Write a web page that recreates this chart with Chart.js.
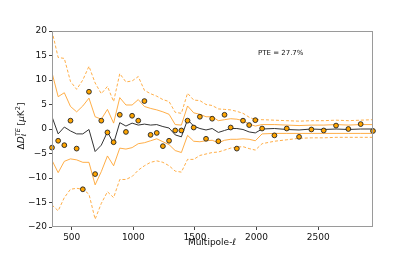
<!DOCTYPE html>
<html><head><meta charset="utf-8">
<script src="https://cdn.jsdelivr.net/npm/chart.js@4.4.0/dist/chart.umd.min.js"></script>
<style>html,body{margin:0;padding:0;background:#fff}canvas{display:block}</style>
</head><body>
<canvas id="c" width="415" height="260" style="width:415px;height:260px"></canvas>
<script>
// Multipole bin centres
const ell = [340,390,440,490,540,590,640,690,740,790,840,890,940,990,1040,1090,1140,1190,1240,1290,1340,1390,1440,1490,1540,1590,1640,1690,1740,1790,1840,1890,1940,1990,
             2045,2145,2245,2345,2445,2545,2645,2745,2845,2945];
// Data residuals (orange points)
const residual = [-3.8,-2.4,-3.3,1.7,-4.0,-12.3,7.6,-9.2,1.7,-0.7,-2.7,2.9,-0.6,2.7,1.7,5.7,-1.2,-0.8,-3.5,-2.4,-0.3,-0.3,1.7,0.3,2.5,-2.0,2.1,-2.5,2.9,0.3,-4.0,1.7,0.8,1.8,
                  0.1,-1.3,0.1,-1.6,-0.1,-0.3,0.7,0.0,1.0,-0.4];
// Mean of simulations (black line)
const simMean = [2.5,-1.0,0.4,-0.4,-1.0,-1.0,-0.1,-4.6,-3.3,-0.6,-2.9,1.3,0.6,1.2,0.8,1.0,0.8,0.9,0.5,0.2,-1.2,-1.6,1.9,0.6,0.1,-0.2,0.1,-0.7,-0.3,0.1,0.1,-0.1,-0.6,-0.8,
                 0.0,0.1,-0.1,-0.2,0.0,-0.1,0.0,-0.1,0.0,0.0];
// 1-sigma band (solid orange)
const band1Upper = [11.5,6.6,7.4,4.6,3.5,4.7,6.3,2.5,2.0,4.0,1.2,6.4,4.9,4.9,6.0,4.6,4.2,3.9,3.5,3.0,0.9,0.8,4.7,3.3,3.0,2.5,2.5,1.7,1.9,2.1,2.0,1.7,1.0,0.6,
                    0.9,0.9,0.8,0.7,0.8,0.8,0.9,0.8,0.9,0.9];
const band1Lower = [-6.4,-8.9,-6.6,-6.1,-6.3,-6.8,-6.8,-11.4,-8.7,-5.5,-7.5,-3.9,-4.1,-3.8,-3.0,-2.8,-2.4,-2.0,-2.6,-3.2,-4.4,-4.8,-1.3,-2.5,-2.6,-2.4,-2.3,-2.8,-2.3,-2.1,-2.1,-2.0,-2.1,-2.4,
                    -1.0,-0.9,-0.9,-0.9,-0.9,-0.9,-0.9,-0.9,-0.9,-0.9];
// 2-sigma band (dashed orange)
const band2Upper = [20.0,14.6,14.4,9.7,8.1,10.0,12.8,9.4,7.2,8.7,5.6,11.3,9.6,9.8,10.7,7.9,7.2,6.7,6.0,5.6,3.4,3.2,7.3,5.9,5.8,5.0,4.8,4.1,4.0,3.9,3.6,3.2,2.4,1.9,
                    1.9,1.8,1.7,1.6,1.7,1.7,1.8,1.7,1.8,1.9];
const band2Lower = [-15.5,-16.7,-14.0,-12.3,-12.1,-12.3,-13.3,-18.4,-15.2,-12.8,-14.0,-10.3,-10.3,-9.7,-8.4,-7.5,-6.8,-6.5,-6.8,-7.5,-8.6,-8.8,-6.2,-6.2,-5.4,-5.1,-4.8,-4.7,-4.3,-3.9,-3.7,-3.6,-4.0,-4.3,
                    -3.0,-2.5,-2.2,-1.9,-1.8,-1.8,-1.7,-1.7,-1.7,-1.7];
// Tick labels
const xTicks = [500,1000,1500,2000,2500];
const yTicks = [-20,-15,-10,-5,0,5,10,15,20];
const xLabel = 'Multipole-ℓ';
const pteLabel = 'PTE = 27.7%';

const FONT = 'DejaVu Sans';
const ORANGE = 'rgba(255,160,40,0.85)';
const pts = arr => ell.map((l,i)=>({x:l,y:arr[i]}));
const lineDs = (arr,color,dash) => ({data:pts(arr),showLine:true,borderColor:color,borderWidth:1,
  borderDash:dash||[],pointRadius:0,pointHoverRadius:0,fill:false,tension:0});

const decor = {
  id:'decor',
  afterDatasetsDraw(chart){
    const {ctx, chartArea:a} = chart;
    ctx.save();
    ctx.strokeStyle = '#9a9a9a'; ctx.lineWidth = 1;
    ctx.strokeRect(Math.round(a.left)+0.5, Math.round(a.top)+0.5, Math.round(a.right-a.left)-1, Math.round(a.bottom-a.top)-1);
    ctx.fillStyle = '#111';
    ctx.textBaseline = 'middle'; ctx.textAlign='left';
    ctx.font = '7px "'+FONT+'"';
    ctx.fillText(pteLabel, 258, 53);
    // x label
    ctx.textAlign='center';
    ctx.font = '9px "'+FONT+'"';
    ctx.fillText(xLabel, 212, 243);
    // y label with sub/superscripts
    ctx.translate(22, 126);
    ctx.rotate(-Math.PI/2);
    const big = '9px "'+FONT+'"', bigI = 'italic 9px "'+FONT+'"', sm = 'italic 6.5px "'+FONT+'"', smN = '6.5px "'+FONT+'"';
    const parts = [
      {t:'Δ',f:big,dy:0},{t:'D',f:bigI,dy:0},
      {t:'ℓ',f:sm,dy:2.5,stack:true},{t:'TE',f:sm,dy:-3.5},
      {t:' [',f:big,dy:0},{t:'μ',f:bigI,dy:0},{t:'K',f:big,dy:0},{t:'2',f:smN,dy:-3.5},{t:']',f:big,dy:0}
    ];
    let total = 0;
    const widths = parts.map(p=>{ctx.font=p.f; return ctx.measureText(p.t).width;});
    parts.forEach((p,i)=>{ if(!p.stack) total += widths[i]; });
    let x = -total/2;
    ctx.textAlign='left';
    parts.forEach((p,i)=>{ ctx.font=p.f; ctx.fillText(p.t, x, p.dy); if(!p.stack) x += widths[i]; });
    ctx.restore();
  }
};

new Chart(document.getElementById('c'), {
  type:'scatter',
  data:{datasets:[
    {data:pts(residual),pointRadius:2.4,pointBackgroundColor:'#FFA500',pointBorderColor:'#222',pointBorderWidth:0.9,showLine:false,clip:false},
    lineDs(simMean,'#333'),
    lineDs(band1Upper,ORANGE),
    lineDs(band1Lower,ORANGE),
    lineDs(band2Upper,ORANGE,[3,2]),
    lineDs(band2Lower,ORANGE,[3,2])
  ]},
  options:{
    responsive:false, animation:false, devicePixelRatio:1,
    layout:{padding:{left:0,right:42,top:31,bottom:0}},
    plugins:{legend:{display:false},tooltip:{enabled:false}},
    scales:{
      x:{type:'linear',min:340,max:2945,
        afterFit:s=>{s.height=33;},
        afterBuildTicks:s=>{s.ticks = xTicks.map(v=>({value:v}));},
        grid:{display:true,drawOnChartArea:false,drawTicks:true,tickLength:3,tickColor:'#444'},
        border:{display:false},
        ticks:{padding:2,color:'#111',font:{family:FONT,size:9},maxRotation:0,autoSkip:false,callback:v=>String(v)}
      },
      y:{type:'linear',min:-20,max:20,
        afterFit:s=>{s.width=52;},
        afterBuildTicks:s=>{s.ticks = yTicks.map(v=>({value:v}));},
        grid:{display:true,drawOnChartArea:false,drawTicks:true,tickLength:3,tickColor:'#444'},
        border:{display:false},
        ticks:{padding:2,color:'#111',font:{family:FONT,size:9},autoSkip:false,callback:v=>v<0?'\u2212'+Math.abs(v):String(v)}
      }
    }
  },
  plugins:[decor]
});
</script>
</body></html>
